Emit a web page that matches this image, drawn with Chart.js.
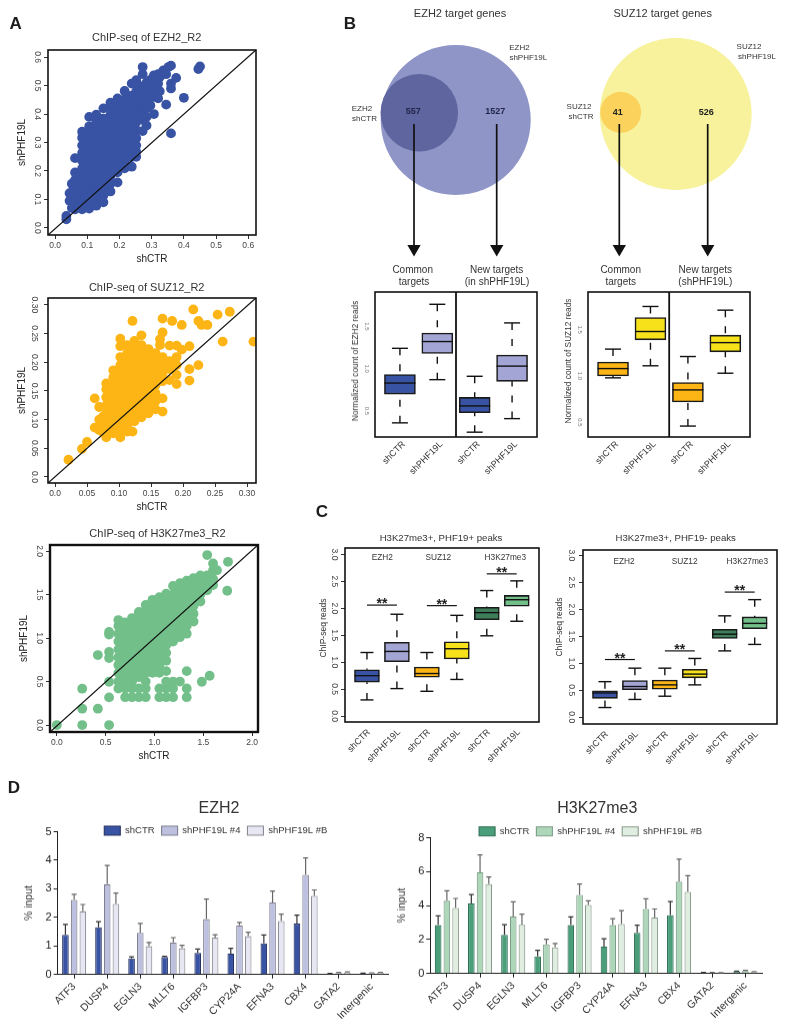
<!DOCTYPE html>
<html>
<head>
<meta charset="utf-8">
<title>PHF19L knockdown ChIP figure</title>
<script src="https://cdn.jsdelivr.net/npm/chart.js@4"></script>
<style>
  html, body { margin: 0; background: #fff; }
  body { position: relative; width: 787px; height: 1024px; overflow: hidden; }
  canvas { position: absolute; }
  .note { position: absolute; transform: translate(-50%, -50%); white-space: nowrap; color: #333; font-family: "Liberation Sans", Arial, sans-serif; }
</style>
</head>
<body>
<script>
// Panel A: each row is one shCTR value followed by the shPHF19L values read at it
const ezh2Columns = [
  [0.035, 0.03, 0.042],
  [0.045, 0.095, 0.122],
  [0.052, 0.07, 0.098, 0.125, 0.155],
  [0.062, 0.065, 0.087, 0.114, 0.141, 0.168, 0.195, 0.245],
  [0.084, 0.065, 0.074, 0.101, 0.128, 0.155, 0.182, 0.209, 0.236, 0.263, 0.29, 0.317, 0.338],
  [0.106, 0.068, 0.087, 0.114, 0.141, 0.168, 0.195, 0.222, 0.249, 0.276, 0.303, 0.33, 0.357, 0.39],
  [0.128, 0.078, 0.101, 0.128, 0.155, 0.182, 0.209, 0.236, 0.263, 0.29, 0.317, 0.344, 0.371, 0.398],
  [0.15, 0.09, 0.114, 0.141, 0.168, 0.195, 0.222, 0.249, 0.276, 0.303, 0.33, 0.357, 0.384, 0.42],
  [0.172, 0.128, 0.155, 0.182, 0.209, 0.236, 0.263, 0.29, 0.317, 0.344, 0.371, 0.398, 0.425, 0.44],
  [0.194, 0.16, 0.195, 0.222, 0.249, 0.276, 0.303, 0.33, 0.357, 0.384, 0.411, 0.438, 0.455],
  [0.216, 0.209, 0.236, 0.263, 0.29, 0.317, 0.344, 0.371, 0.398, 0.425, 0.452, 0.481],
  [0.238, 0.215, 0.249, 0.276, 0.303, 0.33, 0.357, 0.384, 0.411, 0.438, 0.465, 0.507],
  [0.252, 0.25, 0.268, 0.29, 0.315, 0.344, 0.371, 0.398, 0.425, 0.452, 0.479, 0.519],
  [0.26, 0.5],
  [0.272, 0.34, 0.38, 0.411, 0.438, 0.465, 0.49, 0.54, 0.565],
  [0.284, 0.36, 0.39, 0.42, 0.45, 0.48, 0.51],
  [0.296, 0.43, 0.465, 0.495, 0.52],
  [0.307, 0.40, 0.46, 0.49, 0.51, 0.536],
  [0.32, 0.455, 0.507, 0.54],
  [0.325, 0.48, 0.53],
  [0.336, 0.553],
  [0.345, 0.433, 0.54],
  [0.352, 0.565],
  [0.36, 0.332, 0.49, 0.507, 0.57],
  [0.376, 0.527],
  [0.4, 0.457],
  [0.445, 0.558],
  [0.45, 0.567]
];
const suz12Columns = [
  [0.021, 0.03],
  [0.042, 0.049],
  [0.05, 0.061],
  [0.062, 0.086, 0.137],
  [0.069, 0.082, 0.10, 0.122],
  [0.075, 0.078, 0.09, 0.105],
  [0.08, 0.069, 0.083, 0.097, 0.111, 0.125, 0.139, 0.153, 0.163],
  [0.091, 0.076, 0.09, 0.104, 0.118, 0.132, 0.146, 0.16, 0.174, 0.186],
  [0.102, 0.069, 0.083, 0.097, 0.111, 0.125, 0.139, 0.153, 0.167, 0.181, 0.195, 0.209, 0.228, 0.241],
  [0.113, 0.079, 0.09, 0.104, 0.118, 0.132, 0.146, 0.16, 0.174, 0.188, 0.202, 0.216, 0.23],
  [0.121, 0.079, 0.272],
  [0.124, 0.097, 0.111, 0.125, 0.139, 0.153, 0.167, 0.181, 0.195, 0.209, 0.223, 0.237],
  [0.135, 0.104, 0.118, 0.132, 0.146, 0.16, 0.174, 0.188, 0.202, 0.216, 0.23, 0.247],
  [0.146, 0.111, 0.125, 0.139, 0.153, 0.167, 0.181, 0.195, 0.209, 0.223],
  [0.157, 0.118, 0.132, 0.146, 0.16, 0.174, 0.188, 0.202, 0.216],
  [0.164, 0.23, 0.24],
  [0.168, 0.114, 0.137, 0.167, 0.181, 0.195, 0.209, 0.252, 0.276],
  [0.179, 0.169, 0.188, 0.202, 0.229],
  [0.183, 0.272],
  [0.19, 0.162, 0.178, 0.195, 0.209, 0.229],
  [0.198, 0.222, 0.265],
  [0.21, 0.168, 0.188, 0.228],
  [0.216, 0.292],
  [0.224, 0.195, 0.272],
  [0.229, 0.265],
  [0.238, 0.265],
  [0.254, 0.283],
  [0.262, 0.236],
  [0.273, 0.288],
  [0.31, 0.236]
];
const h3k27Columns = [
  [0, 0],
  [0.26, 0, 0.188, 0.418],
  [0.42, 0.188, 0.805],
  [0.535, 0, 0.318, 0.498, 0.77, 0.84, 1.04, 1.07],
  [0.63, 0.42, 0.5, 0.6, 0.69, 0.78, 0.87, 0.96, 1.05, 1.14, 1.207],
  [0.70, 0.32, 0.42, 0.5, 0.55, 0.64, 0.73, 0.82, 0.91, 1.0, 1.09, 1.18],
  [0.77, 0.32, 0.42, 0.5, 0.6, 0.69, 0.78, 0.87, 0.96, 1.05, 1.14, 1.23],
  [0.84, 0.32, 0.42, 0.55, 0.64, 0.73, 0.82, 0.91, 1.0, 1.09, 1.18, 1.27, 1.3],
  [0.91, 0.32, 0.42, 0.5, 0.6, 0.69, 0.78, 0.87, 0.96, 1.05, 1.14, 1.23, 1.32, 1.38],
  [0.98, 0.6, 0.65, 0.74, 0.83, 0.92, 1.01, 1.1, 1.19, 1.28, 1.37, 1.44],
  [1.05, 0.32, 0.42, 0.6, 0.69, 0.78, 0.87, 0.96, 1.05, 1.14, 1.23, 1.32, 1.41, 1.47],
  [1.12, 0.32, 0.42, 0.5, 0.62, 0.74, 0.83, 0.92, 1.01, 1.1, 1.19, 1.28, 1.37, 1.46, 1.51],
  [1.19, 0.32, 0.42, 0.5, 0.96, 1.05, 1.14, 1.23, 1.32, 1.41, 1.5, 1.6],
  [1.26, 0.5, 1.01, 1.1, 1.19, 1.28, 1.37, 1.46, 1.55, 1.63],
  [1.33, 0.32, 0.42, 0.62, 1.05, 1.14, 1.23, 1.32, 1.41, 1.5, 1.59, 1.66],
  [1.40, 1.19, 1.28, 1.37, 1.46, 1.55, 1.64, 1.69],
  [1.47, 1.42, 1.5, 1.59, 1.68, 1.72],
  [1.485, 0.498],
  [1.54, 1.55, 1.64, 1.72, 1.954],
  [1.565, 0.567],
  [1.6, 1.61, 1.68, 1.78, 1.858],
  [1.64, 1.78],
  [1.745, 1.544],
  [1.753, 1.877]
];
const ezh2Ticks = [0, 0.1, 0.2, 0.3, 0.4, 0.5, 0.6];
const ezh2TickLabels = ["0.0", "0.1", "0.2", "0.3", "0.4", "0.5", "0.6"];
const suz12Ticks = [0, 0.05, 0.1, 0.15, 0.2, 0.25, 0.3];
const suz12TickLabels = ["0.0", "0.05", "0.10", "0.15", "0.20", "0.25", "0.30"];
const h3k27Ticks = [0, 0.5, 1, 1.5, 2];
const h3k27TickLabels = ["0.0", "0.5", "1.0", "1.5", "2.0"];

// Panel B: venn counts
const ezh2Venn = [557, 1527];
const suz12Venn = [41, 526];

// Panel B: boxplots
const boxLabelsB = ["shCTR", "shPHF19L", "shCTR", "shPHF19L"];
const ezh2BLow = [0.36, 0.87, 0.25, 0.41];
const ezh2BQ1 = [0.70, 1.18, 0.48, 0.85];
const ezh2BMedian = [0.83, 1.32, 0.56, 1.03];
const ezh2BQ3 = [0.93, 1.42, 0.66, 1.16];
const ezh2BHigh = [1.24, 1.76, 0.91, 1.54];
const suz12BLow = [0.98, 1.11, 0.46, 1.03];
const suz12BQ1 = [1.0, 1.39, 0.72, 1.26];
const suz12BMedian = [1.08, 1.48, 0.85, 1.36];
const suz12BQ3 = [1.15, 1.63, 0.93, 1.44];
const suz12BHigh = [1.29, 1.75, 1.21, 1.71];
const ticksB = [0.5, 1, 1.5];
const tickLabelsB = ["0.5", "1.0", "1.5"];

// Panel C: boxplots
const boxLabelsC = ["shCTR", "shPHF19L", "shCTR", "shPHF19L", "shCTR", "shPHF19L"];
const plusLow = [0.30, 0.51, 0.46, 0.68, 1.49, 1.76];
const plusQ1 = [0.63, 1.01, 0.72, 1.06, 1.79, 2.04];
const plusMedian = [0.75, 1.20, 0.79, 1.25, 1.92, 2.16];
const plusQ3 = [0.86, 1.37, 0.91, 1.38, 2.02, 2.24];
const plusHigh = [1.18, 1.89, 1.18, 1.87, 2.33, 2.51];
const plusBrackets = [[1, 2, 2.06], [3, 4, 2.05], [5, 6, 2.64]];
const minusLow = [0.18, 0.33, 0.39, 0.60, 1.23, 1.35];
const minusQ1 = [0.35, 0.51, 0.52, 0.73, 1.46, 1.64];
const minusMedian = [0.45, 0.57, 0.60, 0.80, 1.54, 1.74];
const minusQ3 = [0.49, 0.68, 0.69, 0.89, 1.63, 1.86];
const minusHigh = [0.66, 0.91, 0.91, 1.09, 1.88, 2.18];
const minusBrackets = [[1, 2, 1.07], [3, 4, 1.23], [5, 6, 2.32]];
const ticksC = [0, 0.5, 1, 1.5, 2, 2.5, 3];
const tickLabelsC = ["0.0", "0.5", "1.0", "1.5", "2.0", "2.5", "3.0"];

// Panel D: bars and upper error tips
const genes = ["ATF3", "DUSP4", "EGLN3", "MLLT6", "IGFBP3", "CYP24A", "EFNA3", "CBX4", "GATA2", "Intergenic"];
const seriesNames = ["shCTR", "shPHF19L #4", "shPHF19L #B"];
const ezh2Ctr = [1.39, 1.65, 0.56, 0.61, 0.75, 0.73, 1.09, 1.78, 0.03, 0.04];
const ezh2Kd4 = [2.61, 3.16, 1.46, 1.12, 1.94, 1.72, 2.52, 3.49, 0.05, 0.05];
const ezh2KdB = [2.21, 2.47, 0.99, 0.92, 1.29, 1.34, 1.87, 2.75, 0.07, 0.06];
const ezh2CtrTop = [1.75, 1.85, 0.62, 0.64, 0.89, 0.92, 1.38, 2.08, 0.04, 0.05];
const ezh2Kd4Top = [2.81, 3.82, 1.79, 1.29, 2.64, 1.82, 2.92, 4.08, 0.07, 0.06];
const ezh2KdBTop = [2.45, 2.85, 1.12, 1.02, 1.39, 1.48, 2.11, 2.96, 0.09, 0.07];
const h3Ctr = [2.85, 4.12, 2.28, 1.01, 2.85, 1.58, 2.4, 3.43, 0.05, 0.12];
const h3Kd4 = [4.28, 5.96, 3.35, 1.72, 4.63, 2.85, 3.8, 5.41, 0.05, 0.14];
const h3KdB = [3.86, 5.27, 2.87, 1.54, 4.04, 2.91, 3.29, 4.81, 0.04, 0.09];
const h3CtrTop = [3.39, 4.65, 2.87, 1.37, 3.33, 2.04, 2.85, 4.24, 0.06, 0.14];
const h3Kd4Top = [4.87, 6.99, 4.22, 2.02, 5.27, 3.23, 4.4, 6.73, 0.06, 0.18];
const h3KdBTop = [4.42, 5.68, 3.5, 1.76, 4.28, 3.7, 3.8, 5.76, 0.05, 0.11];

const BLUE = "#3953a4", LILAC = "#a3a6d4", ORANGE = "#fdb515", YELLOW = "#f6e11b", DARKGREEN = "#3f7e5a", GREEN = "#72bf8a";

Chart.defaults.font.family = "'Liberation Sans', Arial, sans-serif";
Chart.defaults.animation = false;
Chart.defaults.color = "#333";
Chart.defaults.plugins.legend.display = false;
Chart.defaults.plugins.tooltip.enabled = false;

// Put a chart so that its plot area lands on box (page pixels)
function addChart(box, margin, config) {
  const canvas = document.createElement("canvas");
  const width = box.right - box.left + margin.left + margin.right;
  const height = box.bottom - box.top + margin.top + margin.bottom;
  canvas.width = width;
  canvas.height = height;
  canvas.style.left = box.left - margin.left + "px";
  canvas.style.top = box.top - margin.top + "px";
  document.body.appendChild(canvas);
  config.options.responsive = false;
  config.options.maintainAspectRatio = false;
  config.options.layout = {
    autoPadding: false,
    padding: { left: 0, top: margin.top, right: margin.right, bottom: 0 },
  };
  config.options.scales.x.afterFit = (s) => {
    s.height = margin.bottom;
    s.paddingLeft = s.paddingRight = 0;
  };
  config.options.scales.y.afterFit = (s) => {
    s.width = margin.left;
    s.paddingTop = s.paddingBottom = 0;
  };
  const chart = new Chart(canvas, config);
  // a legend eats into the plot height, grow the canvas to get it back
  const extra = box.bottom - box.top - chart.chartArea.height;
  if (extra > 0.5) {
    chart.resize(width, height + extra);
  }
  canvas.style.top = box.top - chart.chartArea.top + "px";
  return chart;
}

function frame(lineWidth) {
  return {
    id: "frame",
    afterDatasetsDraw(chart) {
      const { ctx, chartArea: a } = chart;
      ctx.save();
      ctx.strokeStyle = "#111";
      ctx.lineWidth = lineWidth;
      ctx.strokeRect(a.left, a.top, a.right - a.left, a.bottom - a.top);
      ctx.restore();
    },
  };
}

function fixedTicks(values) {
  return (s) => {
    s.ticks = values.map((value) => ({ value }));
  };
}

function scatterChart(box, s) {
  const points = s.columns.flatMap((c) => c.slice(1).map((y) => ({ x: c[0], y })));
  const axis = (min, max, title) => ({
    type: "linear",
    min,
    max,
    afterBuildTicks: fixedTicks(s.ticks),
    grid: { drawOnChartArea: false, tickLength: 4, color: "#333" },
    border: { display: false },
    title: { display: true, text: title, padding: 0, font: { size: 10 }, color: "#222" },
    ticks: {
      autoSkip: false,
      padding: 2,
      color: "#444",
      font: { size: 8.5 },
      callback: (v, i) => s.tickLabels[i],
    },
  });
  const x = axis(s.xMin, s.xMax, "shCTR");
  const y = axis(s.yMin, s.yMax, "shPHF19L");
  y.ticks.minRotation = -90;
  y.ticks.maxRotation = -90;
  y.ticks.crossAlign = "center";
  y.ticks.padding = 1;
  addChart(box, { left: 32, top: 4, right: 4, bottom: 30 }, {
    type: "scatter",
    data: {
      datasets: [
        {
          data: [{ x: s.xMin, y: s.yMin }, { x: s.xMax, y: s.yMax }],
          showLine: true,
          pointRadius: 0,
          borderColor: "#111",
          borderWidth: 1.3,
        },
        { data: points, pointRadius: 4.9, pointBackgroundColor: s.color, pointBorderWidth: 0 },
      ],
    },
    options: { scales: { x, y } },
    plugins: [frame(s.frameWidth)],
  });
}

function boxDetails(s) {
  return {
    id: "boxDetails",
    beforeDatasetsDraw(chart) {
      const { ctx, scales: { x, y } } = chart;
      ctx.save();
      ctx.strokeStyle = "#111";
      ctx.lineWidth = 1.4;
      s.spots.forEach((spot, i) => {
        const px = x.getPixelForValue(spot);
        [[s.high[i], s.q3[i]], [s.low[i], s.q1[i]]].forEach(([cap, edge]) => {
          ctx.setLineDash([7, 9]);
          ctx.beginPath();
          ctx.moveTo(px, y.getPixelForValue(cap));
          ctx.lineTo(px, y.getPixelForValue(edge));
          ctx.stroke();
          ctx.setLineDash([]);
          ctx.beginPath();
          ctx.moveTo(px - s.capWidth / 2, y.getPixelForValue(cap));
          ctx.lineTo(px + s.capWidth / 2, y.getPixelForValue(cap));
          ctx.stroke();
        });
      });
      ctx.restore();
    },
    afterDatasetsDraw(chart) {
      const { ctx, chartArea: a, scales: { x, y } } = chart;
      ctx.save();
      ctx.strokeStyle = "#111";
      ctx.lineWidth = 1.4;
      s.spots.forEach((spot, i) => {
        const px = x.getPixelForValue(spot);
        const py = y.getPixelForValue(s.median[i]);
        ctx.beginPath();
        ctx.moveTo(px - s.thickness / 2, py);
        ctx.lineTo(px + s.thickness / 2, py);
        ctx.stroke();
      });
      if (s.divider) {
        const dx = x.getPixelForValue(s.divider);
        ctx.lineWidth = 1.8;
        ctx.beginPath();
        ctx.moveTo(dx, a.top);
        ctx.lineTo(dx, a.bottom);
        ctx.stroke();
      }
      (s.brackets || []).forEach(([from, to, level]) => {
        const py = y.getPixelForValue(level);
        const x1 = x.getPixelForValue(from);
        const x2 = x.getPixelForValue(to);
        ctx.lineWidth = 1.2;
        ctx.beginPath();
        ctx.moveTo(x1, py);
        ctx.lineTo(x2, py);
        ctx.stroke();
        ctx.fillStyle = "#222";
        ctx.font = "bold 14px 'Liberation Sans', Arial, sans-serif";
        ctx.textAlign = "center";
        ctx.textBaseline = "alphabetic";
        ctx.fillText("**", (x1 + x2) / 2, py + 3);
      });
      ctx.restore();
    },
  };
}

function boxChart(box, margin, s) {
  s.spots = s.labels.map((l, i) => i + 1);
  addChart(box, margin, {
    type: "bar",
    data: {
      datasets: [{
        data: s.spots.map((spot, i) => ({ x: spot, y: [s.q1[i], s.q3[i]] })),
        backgroundColor: s.colors,
        borderColor: "#1a1a1a",
        borderWidth: 1.6,
        borderSkipped: false,
        barThickness: s.thickness,
      }],
    },
    options: {
      scales: {
        x: {
          type: "linear",
          offset: false,
          min: s.xMin,
          max: s.xMax,
          afterBuildTicks: fixedTicks(s.spots),
          grid: { display: false, offset: false },
          border: { display: false },
          ticks: {
            autoSkip: false,
            minRotation: 45,
            maxRotation: 45,
            padding: s.labelPadding,
            labelOffset: s.labelShift,
            color: "#333",
            font: { size: 9 },
            callback: (v, i) => s.labels[i],
          },
        },
        y: {
          type: "linear",
          min: s.yMin,
          max: s.yMax,
          afterBuildTicks: fixedTicks(s.ticks),
          grid: { drawOnChartArea: false, drawTicks: s.tickLength > 0, tickLength: s.tickLength, color: "#333" },
          border: { display: false },
          ticks: {
            autoSkip: false,
            minRotation: -90,
            maxRotation: -90,
            crossAlign: "center",
            padding: s.tickPadding,
            color: s.tickColor,
            font: { size: s.tickSize },
            callback: (v, i) => s.tickLabels[i],
          },
        },
      },
    },
    plugins: [boxDetails(s), frame(1.6)],
  });
}

function errorTips(tops, colors) {
  return {
    id: "errorTips",
    beforeDatasetsDraw(chart) {
      const { ctx, scales: { y } } = chart;
      ctx.save();
      ctx.lineWidth = 1.2;
      tops.forEach((series, d) => {
        ctx.strokeStyle = colors[d];
        const bars = chart.getDatasetMeta(d).data;
        series.forEach((top, i) => {
          const px = bars[i].x;
          const py = y.getPixelForValue(top);
          ctx.beginPath();
          ctx.moveTo(px, bars[i].y);
          ctx.lineTo(px, py);
          ctx.moveTo(px - 2.5, py);
          ctx.lineTo(px + 2.5, py);
          ctx.stroke();
        });
      });
      ctx.restore();
    },
  };
}

// moves the library's legend on top of the plot, where the figure has it
function legendAt(box, pageX, pageY) {
  return {
    id: "legendAt",
    afterLayout(chart) {
      const lg = chart.legend;
      const cx = pageX - box.left + chart.chartArea.left;
      const cy = pageY - box.top + chart.chartArea.top;
      const dx = cx - (lg.left + lg.right) / 2;
      const dy = cy - 12 - lg.top;
      lg.left += dx;
      lg.right += dx;
      lg.top += dy;
      lg.bottom += dy;
    },
  };
}

function barChart(box, marginLeft, s) {
  addChart(box, { left: marginLeft, top: 0, right: 6, bottom: 50 }, {
    type: "bar",
    data: {
      labels: genes,
      datasets: s.values.map((data, d) => ({
        label: seriesNames[d],
        data,
        backgroundColor: s.fills[d],
        borderColor: s.borders[d],
        borderWidth: 1.1,
        categoryPercentage: 0.79,
        barPercentage: 0.76,
      })),
    },
    options: {
      plugins: {
        legend: {
          display: true,
          position: "top",
          labels: { boxWidth: 16, boxHeight: 9, padding: 7, color: "#333", font: { size: 9.5 } },
        },
      },
      scales: {
        x: {
          grid: { drawOnChartArea: false, offset: false, tickLength: 4, color: "#222" },
          border: { color: "#222" },
          ticks: { autoSkip: false, minRotation: 45, maxRotation: 45, padding: 2, color: "#333", font: { size: 10.5 } },
        },
        y: {
          min: 0,
          max: s.yMax,
          grid: { drawOnChartArea: false, tickLength: 4, color: "#222" },
          border: { color: "#222" },
          title: { display: true, text: "% input", padding: 0, font: { size: 10.5 }, color: "#333" },
          ticks: { stepSize: s.step, padding: 2, color: "#222", font: { size: 11 } },
        },
      },
    },
    plugins: [errorTips(s.tops, s.tipColors), legendAt(box, s.legendX, s.legendY)],
  });
}

// Panel A
scatterChart({ left: 48, top: 50, right: 256, bottom: 235 }, {
  columns: ezh2Columns, color: BLUE, xMin: -0.022, xMax: 0.624, yMin: -0.025, yMax: 0.625,
  ticks: ezh2Ticks, tickLabels: ezh2TickLabels, frameWidth: 1.6,
});
scatterChart({ left: 48, top: 298, right: 256, bottom: 483 }, {
  columns: suz12Columns, color: ORANGE, xMin: -0.011, xMax: 0.314, yMin: -0.0105, yMax: 0.312,
  ticks: suz12Ticks, tickLabels: suz12TickLabels, frameWidth: 1.6,
});
scatterChart({ left: 50, top: 545, right: 258, bottom: 732 }, {
  columns: h3k27Columns, color: GREEN, xMin: -0.07, xMax: 2.06, yMin: -0.08, yMax: 2.07,
  ticks: h3k27Ticks, tickLabels: h3k27TickLabels, frameWidth: 2.4,
});

// Panel B venn circles and arrows, on a page-sized plane. Circle area follows the counts.
const vennSize = (count, scale) => scale * Math.sqrt(count);
const arrow = (x) => ({
  type: "line",
  order: 0,
  data: [{ x, y: 124 }, { x, y: 248.8 }],
  borderColor: "#111",
  borderWidth: 1.7,
  pointRadius: [0, 7.7],
  pointStyle: "triangle",
  pointRotation: 180,
  pointBackgroundColor: "#111",
  pointBorderWidth: 0,
});
addChart({ left: 0, top: 0, right: 787, bottom: 1024 }, { left: 0, top: 0, right: 0, bottom: 0 }, {
  type: "bubble",
  data: {
    datasets: [
      arrow(414), arrow(496.7), arrow(619.3), arrow(707.7),
      { order: 1, data: [{ x: 419.3, y: 112.7, r: vennSize(ezh2Venn[0], 1.643) }], backgroundColor: "#5f659f", borderWidth: 0 },
      { order: 1, data: [{ x: 620.7, y: 112.3, r: vennSize(suz12Venn[0], 3.19) }], backgroundColor: "#fbd25c", borderWidth: 0 },
      { order: 2, data: [{ x: 455.7, y: 120, r: vennSize(ezh2Venn[0] + ezh2Venn[1], 1.643) }], backgroundColor: "#8f95c7", borderWidth: 0 },
      { order: 2, data: [{ x: 675.7, y: 114, r: vennSize(suz12Venn[0] + suz12Venn[1], 3.19) }], backgroundColor: "#f7f29b", borderWidth: 0 },
    ],
  },
  options: {
    scales: {
      x: { type: "linear", min: 0, max: 787, display: false },
      y: { type: "linear", min: 0, max: 1024, reverse: true, display: false },
    },
  },
});

// Panel B boxplots
boxChart({ left: 375, top: 291.7, right: 537.7, bottom: 436.7 }, { left: 25, top: 4, right: 4, bottom: 55 }, {
  labels: boxLabelsB, low: ezh2BLow, q1: ezh2BQ1, median: ezh2BMedian, q3: ezh2BQ3, high: ezh2BHigh,
  colors: [BLUE, LILAC, BLUE, LILAC], xMin: 0.333, xMax: 4.667, yMin: 0.193, yMax: 1.905,
  ticks: ticksB, tickLabels: tickLabelsB, thickness: 31, capWidth: 16, divider: 2.5,
  labelPadding: -6, labelShift: 4, tickLength: 0, tickPadding: 4, tickSize: 6, tickColor: "#777",
});
boxChart({ left: 588.3, top: 291.7, right: 750.3, bottom: 436.7 }, { left: 25, top: 4, right: 4, bottom: 55 }, {
  labels: boxLabelsB, low: suz12BLow, q1: suz12BQ1, median: suz12BMedian, q3: suz12BQ3, high: suz12BHigh,
  colors: [ORANGE, YELLOW, ORANGE, YELLOW], xMin: 0.332, xMax: 4.658, yMin: 0.342, yMax: 1.906,
  ticks: ticksB, tickLabels: tickLabelsB, thickness: 31, capWidth: 16, divider: 2.5,
  labelPadding: -6, labelShift: 4, tickLength: 0, tickPadding: 4, tickSize: 6, tickColor: "#777",
});

// Panel C boxplots
const colorsC = [BLUE, LILAC, ORANGE, YELLOW, DARKGREEN, GREEN];
boxChart({ left: 345, top: 547.7, right: 539.3, bottom: 721.7 }, { left: 27, top: 4, right: 4, bottom: 50 }, {
  labels: boxLabelsC, low: plusLow, q1: plusQ1, median: plusMedian, q3: plusQ3, high: plusHigh,
  colors: colorsC, xMin: 0.267, xMax: 6.743, yMin: -0.11, yMax: 3.12, brackets: plusBrackets,
  ticks: ticksC, tickLabels: tickLabelsC, thickness: 25, capWidth: 13,
  labelPadding: -3, labelShift: 2, tickLength: 4, tickPadding: 1, tickSize: 8.5, tickColor: "#444",
});
boxChart({ left: 583.3, top: 550, right: 777.3, bottom: 724.3 }, { left: 30, top: 4, right: 4, bottom: 50 }, {
  labels: boxLabelsC, low: minusLow, q1: minusQ1, median: minusMedian, q3: minusQ3, high: minusHigh,
  colors: colorsC, xMin: 0.267, xMax: 6.745, yMin: -0.125, yMax: 3.1, brackets: minusBrackets,
  ticks: ticksC, tickLabels: tickLabelsC, thickness: 25, capWidth: 13,
  labelPadding: -3, labelShift: 2, tickLength: 4, tickPadding: 1.5, tickSize: 8.5, tickColor: "#444",
});

// Panel D
barChart({ left: 57.3, top: 831.7, right: 388, bottom: 973.3 }, 34.6, {
  values: [ezh2Ctr, ezh2Kd4, ezh2KdB], tops: [ezh2CtrTop, ezh2Kd4Top, ezh2KdBTop],
  fills: [BLUE, "#bdc0de", "#e6e7f3"], borders: ["#27325f", "#7f8090", "#8c8c94"],
  tipColors: ["#333", "#666", "#666"], yMax: 5, step: 1, legendX: 215.5, legendY: 831,
});
barChart({ left: 430, top: 837.7, right: 761.7, bottom: 972.3 }, 34.3, {
  values: [h3Ctr, h3Kd4, h3KdB], tops: [h3CtrTop, h3Kd4Top, h3KdBTop],
  fills: ["#4a9e7a", "#aed6b9", "#e0eee2"], borders: ["#2f6f55", "#7d9d88", "#8a9a8c"],
  tipColors: ["#333", "#666", "#666"], yMax: 8, step: 2, legendX: 590.3, legendY: 831.7,
});

// Text that sits outside the axes
function note(text, x, y, size, extra) {
  const el = document.createElement("div");
  el.className = "note";
  el.textContent = text;
  el.style.left = x + "px";
  el.style.top = y + "px";
  el.style.fontSize = size + "px";
  Object.assign(el.style, extra || {});
  document.body.appendChild(el);
}
const bold = { fontWeight: "bold", color: "#1c1c1c" };
const countStyle = { fontWeight: "bold", color: "#22264a" };
const upright = { transform: "translate(-50%, -50%) rotate(-90deg)" };
note("A", 15.7, 24, 17, bold);
note("B", 350, 24, 17, bold);
note("C", 322, 512, 17, bold);
note("D", 14, 788, 17, bold);
note("ChIP-seq of EZH2_R2", 146.7, 37, 11);
note("ChIP-seq of SUZ12_R2", 146.7, 287, 11);
note("ChIP-seq of H3K27me3_R2", 157.5, 533, 11);
note("EZH2 target genes", 460, 13, 11);
note("SUZ12 target genes", 662.7, 13, 11);
note("EZH2", 519.5, 46.7, 8);
note("shPHF19L", 528.3, 56.7, 8);
note("EZH2", 362, 108, 8);
note("shCTR", 364.5, 118, 8);
note("SUZ12", 749, 46, 8);
note("shPHF19L", 757, 56, 8);
note("SUZ12", 579, 106, 8);
note("shCTR", 581, 116, 8);
note("557", 413.3, 111, 9, countStyle);
note("1527", 495.3, 111, 9, countStyle);
note("41", 617.7, 111.5, 9, { fontWeight: "bold", color: "#222" });
note("526", 706.3, 111.5, 9, { fontWeight: "bold", color: "#222" });
note("Common", 412.7, 269.3, 10);
note("targets", 414, 281, 10);
note("New targets", 496.7, 269.3, 10);
note("(in shPHF19L)", 497, 281, 10);
note("Common", 620.7, 269.3, 10);
note("targets", 620.7, 281, 10);
note("New targets", 705.3, 269.3, 10);
note("(shPHF19L)", 705.3, 281, 10);
note("Normalized count of EZH2 reads", 354.7, 360.5, 8.3, upright);
note("Normalized count of SUZ12 reads", 568, 360.5, 8.3, upright);
note("ChIP-seq reads", 323, 628, 8.5, upright);
note("ChIP-seq reads", 558.7, 626.7, 8.5, upright);
note("H3K27me3+, PHF19+ peaks", 441, 536.7, 9.6);
note("H3K27me3+, PHF19- peaks", 675.7, 536.7, 9.6);
note("EZH2", 382.3, 557.3, 8.3);
note("SUZ12", 438.3, 557.3, 8.3);
note("H3K27me3", 505.3, 557.3, 8.3);
note("EZH2", 624, 561, 8.3);
note("SUZ12", 684.7, 561, 8.3);
note("H3K27me3", 747.3, 561, 8.3);
note("EZH2", 219, 807.7, 16);
note("H3K27me3", 597.3, 807.7, 16);
</script>
</body>
</html>
